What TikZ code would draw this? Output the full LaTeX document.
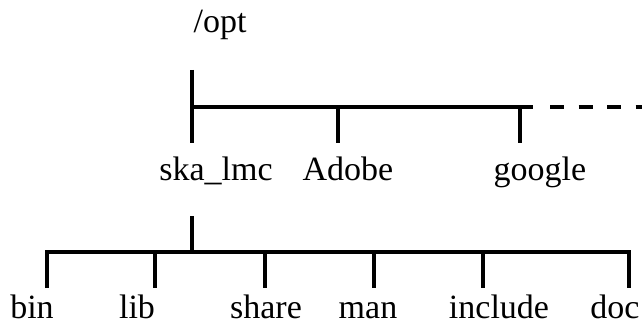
\documentclass[tikz,border=0pt]{standalone}
\usepackage{fontspec}
\setmainfont{Liberation Serif}
\usetikzlibrary{positioning}
\tikzset{
  dir/.style={inner sep=0pt, anchor=base, font=\fontsize{34}{40}\selectfont},
  branch/.style={line width=4pt},
}

\begin{document}
\begin{tikzpicture}[x=1pt,y=-1pt]
\useasboundingbox (0,0) rectangle (642,326);

% /opt and its children
\node[dir] (opt) at (220,33) {/opt};
\coordinate (opt-root) at (192,70);
\coordinate (opt-end) at (533,107);
\coordinate (opt-dots) at (550,107);
\coordinate (opt-more) at (642,107);
\foreach \name/\x in {ska/192, adobe/338, google/520} {
  \coordinate (\name-joint) at (\x,107);
  \coordinate (\name-tick) at (\x,143);
}
\node[dir] (ska) at (216,180) {ska\_lmc};
\node[dir] (adobe) at (348,180) {Adobe};
\node[dir] (google) at (540,180) {google};

\draw[branch] (opt-root) -- (ska-tick);
\draw[branch] (ska-joint) -- (opt-end);
\draw[branch] (adobe-joint) -- (adobe-tick);
\draw[branch] (google-joint) -- (google-tick);
\draw[branch, dash pattern=on 14pt off 14.5pt] (opt-dots) -- (opt-more);

% ska_lmc and its children
\coordinate (ska-down) at (192,216);
\coordinate (ska-bar) at (192,252);
\foreach \name/\x in {bin/47, lib/155, share/265, man/374, include/483, doc/629} {
  \coordinate (\name-joint) at (\x,252);
  \coordinate (\name-tick) at (\x,288);
}
\node[dir] (bin) at (32,318) {bin};
\node[dir] (lib) at (137,318) {lib};
\node[dir] (share) at (266,318) {share};
\node[dir] (man) at (368,318) {man};
\node[dir] (include) at (499,318) {include};
\node[dir] (doc) at (615,318) {doc};

\draw[branch] (ska-down) -- (ska-bar);
\draw[branch] (bin-tick) -- (bin-joint) -- (doc-joint) -- (doc-tick);
\foreach \name in {lib, share, man, include}
  \draw[branch] (\name-joint) -- (\name-tick);
\end{tikzpicture}
\end{document}
